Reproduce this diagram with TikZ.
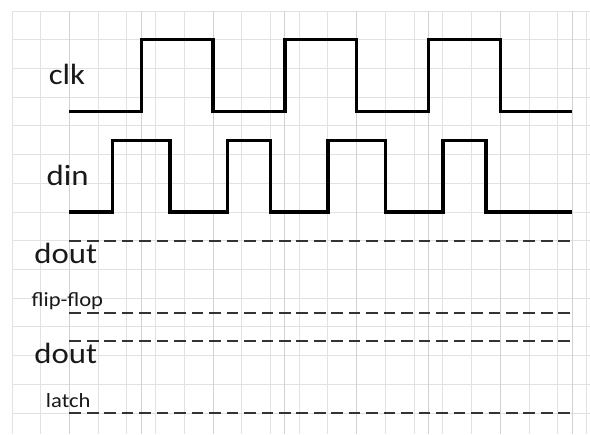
\documentclass[tikz,border=0pt]{standalone}
\usepackage{fontspec}
\setmainfont{Carlito}
\usetikzlibrary{positioning}
\definecolor{gridgray}{HTML}{E2E2E2}
\definecolor{gridmajor}{HTML}{D2D2D2}
\definecolor{dashgray}{HTML}{333333}
\newcommand{\biglbl}{\fontsize{29}{31}\selectfont}
\newcommand{\smalllbl}{\fontsize{20}{22}\selectfont}

\begin{document}
\begin{tikzpicture}[x=0.5cm,y=0.5cm,
  wave/.style={black,line width=3.4pt,line join=miter},
  dashline/.style={dashgray,line width=2pt,dash pattern=on 11.5pt off 5.8pt},
  lbl/.style={anchor=base west,inner sep=0pt,text=black!90,xscale=1.12}]
\useasboundingbox (-0.836,0.766) rectangle (40.25,-29.46);
% squared paper
\draw[gridgray,line width=.9pt] (0,0) grid (40.25,-29.46);
\foreach \x in {4,9,...,39}{\draw[gridmajor,line width=.9pt] (\x,0)--(\x,-29.46);}
% clock and data
\draw[wave] (4,-7) -| (9,-2) -| (14,-7) -| (19,-2) -| (24,-7) -| (29,-2) -| (34,-7) -- (39,-7);
\draw[wave] (4,-14) -| (7,-9) -| (11,-14) -| (15,-9) -| (18,-14) -| (22,-9) -| (26,-14) -| (30,-9) -| (33,-14) -- (39,-14);
% empty output rows
\foreach \y in {16,21,23,28}{\draw[dashline] (4,-\y)--(39,-\y);}
\node[lbl] (clk) at (2.55,-5.15) {\biglbl clk};
\node[lbl] (din) at (2.4,-12.12) {\biglbl din};
\node[lbl] (doutff) at (1.55,-17.57) {\biglbl dout};
\node[lbl] (ff) at (1.35,-20.58) {\smalllbl flip-flop};
\node[lbl] (doutl) at (1.55,-24.54) {\biglbl dout};
\node[lbl] (latch) at (2.35,-27.6) {\smalllbl latch};
\end{tikzpicture}
\end{document}
